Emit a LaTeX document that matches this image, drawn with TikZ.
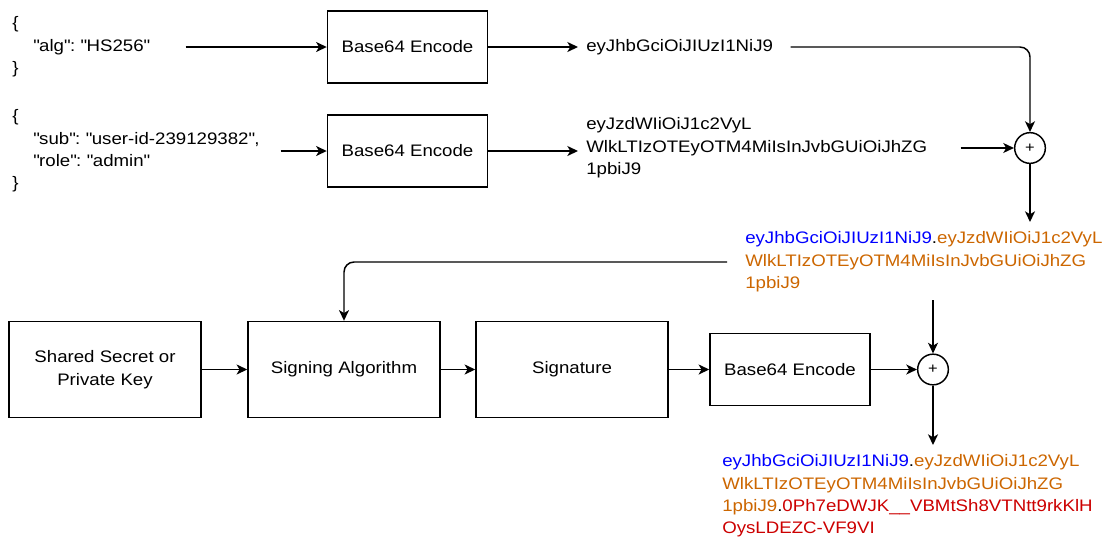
\documentclass[tikz,border=0pt]{standalone}
\usepackage{fontspec}
\setmainfont{Liberation Sans}[FakeStretch=1.12]
\usetikzlibrary{arrows.meta}
\definecolor{hdr}{RGB}{0,0,255}
\definecolor{pay}{RGB}{204,102,0}
\definecolor{sgn}{RGB}{204,0,0}
\newcommand{\qq}{\textquotedbl}
\frenchspacing
\begin{document}
\begin{tikzpicture}[x=0.75pt,y=-0.75pt,
  font=\fontsize{12.5pt}{16.8pt}\selectfont,
  box/.style={draw, line width=1.1pt, inner sep=0, align=center},
  txt/.style={inner ysep=0, inner xsep=6pt, align=left, anchor=west},
  plus/.style={draw, circle, line width=1.1pt, minimum size=23pt, inner sep=0, font=\fontsize{11pt}{12pt}\selectfont},
  conn/.style={line width=1.1pt, -{Stealth[length=8pt,width=7.5pt,inset=2.2pt]}},
  ]
\useasboundingbox (0,0) rectangle (1114,540);

% top JSON inputs
\node[txt, inner xsep=0, text width=129.75pt] (j1) at (12,47)
  {\{\\\hspace*{15.75pt}\qq alg\qq: \qq HS256\qq\\\}};
\node[txt, inner xsep=0, text width=201pt] (j2) at (12,151)
  {\{\\\hspace*{15.75pt}\qq sub\qq: \qq user-id-239129382\qq,\\\hspace*{15.75pt}\qq role\qq: \qq admin\qq\\\}};

% encoders
\node[box, minimum width=120pt, minimum height=54pt] (b1) at (407.5,47) {Base64 Encode};
\node[box, minimum width=120pt, minimum height=54pt] (b2) at (407.5,151) {Base64 Encode};

% encoded parts
\node[txt, text width=147pt] (t1) at (578,47) {eyJhbGciOiJIUzI1NiJ9};
\node[txt, text width=274.5pt] (t2) at (578,148)
  {eyJzdWIiOiJ1c2VyL\\WlkLTIzOTEyOTM4MiIsInJvbGUiOiJhZG\\1pbiJ9};

\node[plus] (c1) at (1030,148) {+};
\coordinate (c1end) at (1030,222);

\node[txt, inner xsep=13.5pt] (t3) at (727,262)
  {\textcolor{hdr}{eyJhbGciOiJIUzI1NiJ9}.\textcolor{pay}{eyJzdWIiOiJ1c2VyL}\\
   \textcolor{pay}{WlkLTIzOTEyOTM4MiIsInJvbGUiOiJhZG}\\
   \textcolor{pay}{1pbiJ9}};

% signing row
\node[box, minimum width=144pt, minimum height=72pt] (shared) at (105,369.5) {Shared Secret or\\Private Key};
\node[box, minimum width=144pt, minimum height=72pt] (sign) at (344,369.5) {Signing Algorithm};
\node[box, minimum width=144pt, minimum height=72pt] (sig) at (572,369.5) {Signature};
\node[box, minimum width=120pt, minimum height=54pt] (b3) at (790,369.5) {Base64 Encode};

\node[plus] (c2) at (933,369.5) {+};
\coordinate (c2in) at (933,300);
\coordinate (c2end) at (933,445);

\node[txt, inner xsep=0] (t4) at (722,496)
  {\textcolor{hdr}{eyJhbGciOiJIUzI1NiJ9}.\textcolor{pay}{eyJzdWIiOiJ1c2VyL}\\
   \textcolor{pay}{WlkLTIzOTEyOTM4MiIsInJvbGUiOiJhZG}\\
   \textcolor{pay}{1pbiJ9}.\textcolor{sgn}{0Ph7eDWJK\_\_VBMtSh8VTNtt9rkKlH}\\
   \textcolor{sgn}{OysLDEZC-VF9VI}};

% connectors
\draw[conn] (j1) -- (b1);
\draw[conn] (b1) -- (t1);
\draw[conn, rounded corners=7.5pt] (t1.east) -| (c1.north);
\draw[conn] (j2.east) -- (j2.east -| b2.west);
\draw[conn] (b2.east) -- (b2.east -| t2.west);
\draw[conn] (t2.east |- c1) -- (c1);
\draw[conn] (c1) -- (c1end);
\draw[conn, rounded corners=7.5pt] (t3.west) -| (sign.north);
\draw[conn] (shared) -- (sign);
\draw[conn] (sign) -- (sig);
\draw[conn] (sig) -- (b3);
\draw[conn] (b3) -- (c2);
\draw[conn] (c2in) -- (c2);
\draw[conn] (c2) -- (c2end);
\end{tikzpicture}
\end{document}
